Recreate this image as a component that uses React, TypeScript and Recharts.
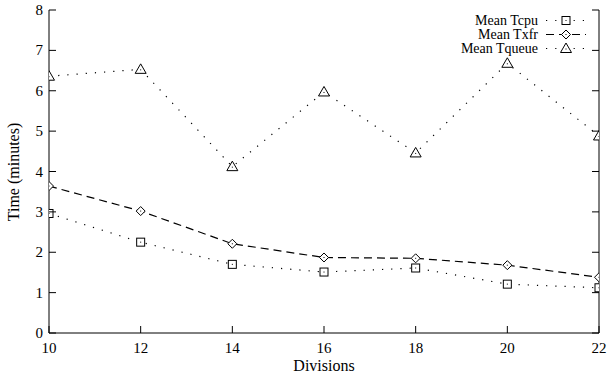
import { LineChart, Line, XAxis, YAxis, Legend } from 'recharts';

const divisions = [10, 12, 14, 16, 18, 20, 22];
const meanTcpu = [2.96, 2.25, 1.7, 1.51, 1.61, 1.21, 1.12];
const meanTxfr = [3.64, 3.02, 2.21, 1.87, 1.85, 1.68, 1.38];
const meanTqueue = [6.36, 6.53, 4.12, 5.97, 4.46, 6.68, 4.88];
const xTicks = [10, 12, 14, 16, 18, 20, 22];
const yTicks = [0, 1, 2, 3, 4, 5, 6, 7, 8];

const data = divisions.map((d, i) => ({
  div: d,
  tcpu: meanTcpu[i],
  txfr: meanTxfr[i],
  tqueue: meanTqueue[i],
}));

const FONT = '"Liberation Serif", "DejaVu Serif", serif';
const TICK = 7;

function Marker({ shape, cx, cy }: { shape: string; cx: number; cy: number }) {
  if (cx == null || cy == null) return null;
  if (shape === 'square') {
    return (
      <g>
        <rect x={cx - 4} y={cy - 4} width={8} height={8} fill="#fff" stroke="#000" strokeWidth={1} />
        <rect x={cx - 0.5} y={cy - 0.5} width={1} height={1} fill="#000" />
      </g>
    );
  }
  if (shape === 'diamond') {
    return (
      <g>
        <polygon
          points={`${cx},${cy - 4.5} ${cx + 4.5},${cy} ${cx},${cy + 4.5} ${cx - 4.5},${cy}`}
          fill="#fff"
          stroke="#000"
          strokeWidth={1}
        />
        <rect x={cx - 0.5} y={cy - 0.5} width={1} height={1} fill="#000" />
      </g>
    );
  }
  return (
    <g>
      <polygon
        points={`${cx},${cy - 5.5} ${cx + 5.5},${cy + 4} ${cx - 5.5},${cy + 4}`}
        fill="#fff"
        stroke="#000"
        strokeWidth={1}
      />
      <rect x={cx - 0.5} y={cy} width={1} height={1} fill="#000" />
    </g>
  );
}

const series = [
  { key: 'tcpu', name: 'Mean Tcpu', dash: '1.2 8', shape: 'square' },
  { key: 'txfr', name: 'Mean Txfr', dash: '8 5', shape: 'diamond' },
  { key: 'tqueue', name: 'Mean Tqueue', dash: '1.2 8', shape: 'triangle' },
];

const BottomTick = (props: any) => {
  const { x, y, payload } = props;
  return (
    <g>
      <line x1={x} y1={y} x2={x} y2={y - TICK} stroke="#000" />
      <text x={x} y={y + 20} textAnchor="middle" fontFamily={FONT} fontSize={15} fill="#000">
        {payload.value}
      </text>
    </g>
  );
};

const TopTick = (props: any) => {
  const { x, y } = props;
  return <line x1={x} y1={y} x2={x} y2={y + TICK} stroke="#000" />;
};

const LeftTick = (props: any) => {
  const { x, y, payload } = props;
  return (
    <g>
      <line x1={x} y1={y} x2={x + TICK} y2={y} stroke="#000" />
      <text x={x - 6} y={y + 5} textAnchor="end" fontFamily={FONT} fontSize={15} fill="#000">
        {payload.value}
      </text>
    </g>
  );
};

const RightTick = (props: any) => {
  const { x, y } = props;
  return <line x1={x} y1={y} x2={x - TICK} y2={y} stroke="#000" />;
};

const renderLegend = () => (
  <svg width={220} height={50} style={{ display: 'block' }}>
    {series.map((s, i) => {
      const base = 11 + i * 14;
      const my = base - 4.5;
      return (
        <g key={s.key}>
          <text x={158} y={base} textAnchor="end" fontFamily={FONT} fontSize={14} fill="#000">
            {s.name}
          </text>
          <line x1={166} y1={my} x2={206} y2={my} stroke="#000" strokeWidth={1.2} strokeDasharray={s.dash} />
          <Marker shape={s.shape} cx={186} cy={my} />
        </g>
      );
    })}
  </svg>
);

export default function App() {
  return (
    <div style={{ position: 'absolute', left: 0, top: 0, background: '#fff' }}>
      <LineChart width={608} height={378} data={data} margin={{ top: 10, right: 0, bottom: 0, left: 0 }}>
        <XAxis
          dataKey="div"
          type="number"
          domain={[10, 22]}
          ticks={xTicks}
          allowDataOverflow
          height={45}
          tickSize={0}
          tickMargin={0}
          tick={<BottomTick />}
          axisLine={{ stroke: '#000' }}
          label={{
            content: () => (
              <text x={324} y={371} textAnchor="middle" fontFamily={FONT} fontSize={16} fill="#000">
                Divisions
              </text>
            ),
          }}
        />
        <XAxis
          xAxisId="top"
          orientation="top"
          dataKey="div"
          type="number"
          domain={[10, 22]}
          ticks={xTicks}
          allowDataOverflow
          height={0}
          tickSize={0}
          tickMargin={0}
          tick={<TopTick />}
          axisLine={{ stroke: '#000' }}
        />
        <YAxis
          type="number"
          domain={[0, 8]}
          ticks={yTicks}
          allowDataOverflow
          width={49}
          tickSize={0}
          tickMargin={0}
          tick={<LeftTick />}
          axisLine={{ stroke: '#000' }}
          label={{
            content: () => (
              <text
                x={19}
                y={172}
                textAnchor="middle"
                fontFamily={FONT}
                fontSize={16}
                fill="#000"
                transform="rotate(-90 19 172)"
              >
                Time (minutes)
              </text>
            ),
          }}
        />
        <YAxis
          yAxisId="right"
          orientation="right"
          type="number"
          domain={[0, 8]}
          ticks={yTicks}
          allowDataOverflow
          width={9}
          tickSize={0}
          tickMargin={0}
          tick={<RightTick />}
          axisLine={{ stroke: '#000' }}
        />
        <Legend
          layout="vertical"
          align="center"
          verticalAlign="middle"
          content={renderLegend}
          wrapperStyle={{ top: 14, left: 380, width: 220 }}
        />
        {series.map((s) => (
          <Line
            key={s.key}
            dataKey={s.key}
            name={s.name}
            type="linear"
            stroke="#000"
            strokeWidth={1.2}
            strokeDasharray={s.dash}
            isAnimationActive={false}
            dot={(p: any) => <Marker key={`${s.key}-${p.index}`} shape={s.shape} cx={p.cx} cy={p.cy} />}
            activeDot={false}
          />
        ))}
      </LineChart>
    </div>
  );
}
